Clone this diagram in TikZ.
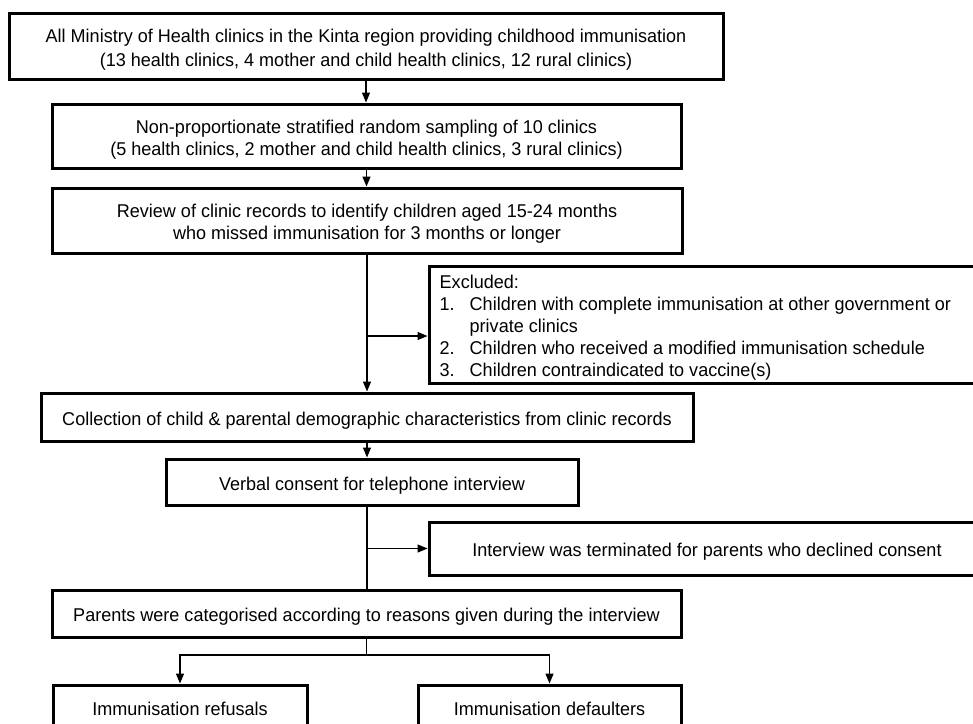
\documentclass[tikz,border=0pt]{standalone}
\usepackage{fontspec}
\setmainfont{Liberation Sans}[FakeStretch=0.975]
\usetikzlibrary{arrows.meta}
\begin{document}
\begin{tikzpicture}[x=1pt,y=-1pt,
  box/.style={draw,line width=3pt,rectangle,inner sep=0pt},
  txt/.style={align=center,inner sep=0pt,font=\fontsize{18.5}{22}\selectfont},
  conn/.style={line width=1.3pt},
  arr/.style={line width=1.3pt,-{Triangle[length=10pt,width=8pt]}}]
\useasboundingbox (0,0) rectangle (973,723);
\node[box,minimum width=714,minimum height=66] (b1) at (366,46) {};
\node[txt] (t1) at ([yshift=-3.5pt]b1.center)
  {All Ministry of Health clinics in the Kinta region providing childhood immunisation\\[1.5pt](13 health clinics, 4 mother and child health clinics, 12 rural clinics)};
\node[box,minimum width=629,minimum height=64] (b2) at (366.5,136) {};
\node[txt] (t2) at ([yshift=-3.5pt]b2.center)
  {Non-proportionate stratified random sampling of 10 clinics\\(5 health clinics, 2 mother and child health clinics, 3 rural clinics)};
\node[box,minimum width=630,minimum height=65] (b3) at (367,220.5) {};
\node[txt] (t3) at ([yshift=-3.5pt]b3.center)
  {Review of clinic records to identify children aged 15-24 months\\who missed immunisation for 3 months or longer};
\node[box,minimum width=571,minimum height=117] (ex) at (714.5,324.5) {};
\node[txt,align=left,anchor=west] (tex) at ([xshift=12pt,yshift=-3.5pt]ex.west)
  {Excluded:\\
   \makebox[30pt][l]{1.}Children with complete immunisation at other government or\\
   \makebox[30pt][l]{}private clinics\\
   \makebox[30pt][l]{2.}Children who received a modified immunisation schedule\\
   \makebox[30pt][l]{3.}Children contraindicated to vaccine(s)};
\node[box,minimum width=652,minimum height=48] (b4) at (367,417) {};
\node[txt] (t4) at ([yshift=-3.5pt]b4.center)
  {Collection of child \& parental demographic characteristics from clinic records};
\node[box,minimum width=412,minimum height=46] (b5) at (372,482) {};
\node[txt] (t5) at ([yshift=-3.5pt]b5.center)
  {Verbal consent for telephone interview};
\node[box,minimum width=556,minimum height=53] (term) at (707,548.5) {};
\node[txt] (tterm) at ([yshift=-3pt]term.center)
  {Interview was terminated for parents who declined consent};
\node[box,minimum width=629,minimum height=47] (b6) at (366.5,613.5) {};
\node[txt] (t6) at ([yshift=-3pt]b6.center)
  {Parents were categorised according to reasons given during the interview};
\node[box,minimum width=254,minimum height=46] (b7) at (180,708) {};
\node[txt] (t7) at ([yshift=-1pt]b7.center) {Immunisation refusals};
\node[box,minimum width=263,minimum height=46] (b8) at (549.5,708) {};
\node[txt] (t8) at ([yshift=-1pt]b8.center) {Immunisation defaulters};
% connectors
\draw[arr] (b1.south) -- (b1.south |- b2.north);
\draw[arr] (b2.south) -- (b2.south |- b3.north);
\draw[arr] (b3.south) -- (b3.south |- b4.north);
\coordinate (k1) at (367,336);
\draw[arr] (k1) -- (k1 -| ex.west);
\draw[arr] (b4.south) -- (b4.south |- b5.north);
\coordinate (k2) at (367,505);
\draw[conn] (k2) -- (k2 |- b6.north);
\coordinate (k3) at (367,548.5);
\draw[arr] (k3) -- (term.west);
\coordinate (k4) at (366.5,655);
\draw[conn] (b6.south) -- (k4);
\draw[arr] (k4) -| (b7.north);
\draw[arr] (k4) -| (b8.north);
\end{tikzpicture}
\end{document}
